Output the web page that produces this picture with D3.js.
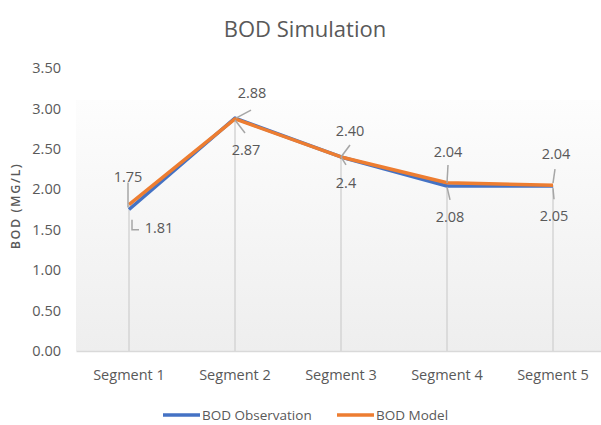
<!DOCTYPE html>
<html>
<head>
<meta charset="utf-8">
<script src="https://cdn.jsdelivr.net/npm/d3@7"></script>
<style>
  body { margin: 0; background: #fff; }
  text { font-family: "Open Sans", "Noto Sans", sans-serif; fill: #595959; }
</style>
</head>
<body>
<svg width="601" height="425"></svg>
<script>
// Data
let categories = ["Segment 1", "Segment 2", "Segment 3", "Segment 4", "Segment 5"];
let observation = [1.75, 2.88, 2.40, 2.04, 2.04];
let model = [1.81, 2.87, 2.40, 2.08, 2.05];
let observationLabels = ["1.75", "2.88", "2.40", "2.04", "2.04"];
let modelLabels = ["1.81", "2.87", "2.4", "2.08", "2.05"];
let yTicks = [0, 0.5, 1, 1.5, 2, 2.5, 3, 3.5];

// Label placement (offsets from the point, like the dragged Excel labels)
let obsLabelPos = [
  { dx: -1, dy: -33, leader: [[-1, -27], [-1, -2]] },
  { dx: 17, dy: -25, leader: [[16, -8], [1, 0]] },
  { dx: 9, dy: -26, leader: [[9, -12], [0, 0]] },
  { dx: 1, dy: -34, leader: [[1, -21], [0, -3]] },
  { dx: 3, dy: -32, leader: [[2, -17], [0, -3]] }
];
let modelLabelPos = [
  { dx: 30, dy: 23, leader: [[3, 15], [3, 25], [10, 25]] },
  { dx: 11, dy: 31, leader: [[0, 1], [10, 14]] },
  { dx: 5, dy: 26, leader: [[0, 0], [5, 8]] },
  { dx: 3, dy: 34, leader: [[0, 4], [3, 17]] },
  { dx: 1, dy: 31, leader: [[0, 3], [1, 14]] }
];

let svg = d3.select("svg");
let width = +svg.attr("width");

let margin = { top: 68, left: 76, bottom: 351 };

let x = d3.scaleBand().domain(categories).range([margin.left, margin.left + 530]);
let y = d3.scaleLinear().domain([0, 3.5]).range([margin.bottom, margin.top]);

// plot area gradient
let defs = svg.append("defs");
let grad = defs.append("linearGradient")
  .attr("id", "plot-bg")
  .attr("x1", "0%").attr("y1", "0%")
  .attr("x2", "0%").attr("y2", "100%");
grad.append("stop").attr("offset", "0%").attr("stop-color", "#fdfdfd");
grad.append("stop").attr("offset", "100%").attr("stop-color", "#eeeeee");

svg.append("rect")
  .attr("x", margin.left)
  .attr("y", 100)
  .attr("width", width - margin.left)
  .attr("height", margin.bottom - 100)
  .attr("fill", "url(#plot-bg)");

// Title
svg.append("text")
  .attr("x", 305)
  .attr("y", 37)
  .attr("text-anchor", "middle")
  .style("font-size", "22px")
  .text("BOD Simulation");

// Y axis tick labels
let yAxis = svg.append("g")
  .attr("transform", "translate(" + (margin.left - 15) + ",0)")
  .call(d3.axisLeft(y).tickValues(yTicks).tickSize(0).tickPadding(0).tickFormat(d3.format(".2f")));
yAxis.select(".domain").remove();
yAxis.selectAll("text")
  .style("font-size", "14.5px")
  .attr("fill", "#595959");

// Y axis title
svg.append("text")
  .attr("transform", "translate(20,206) rotate(-90)")
  .attr("text-anchor", "middle")
  .style("font-size", "12.5px")
  .style("font-weight", "600")
  .style("letter-spacing", "1.6px")
  .text("BOD (MG/L)");

// X axis
let xAxis = svg.append("g")
  .attr("transform", "translate(0," + margin.bottom + ")")
  .call(d3.axisBottom(x).tickSize(0).tickPadding(19));
xAxis.select(".domain")
  .attr("stroke", "#d9d9d9")
  .attr("stroke-width", 1.5);
xAxis.selectAll("text")
  .style("font-size", "14.5px")
  .attr("fill", "#595959");

// Drop lines
svg.append("g")
  .selectAll("line")
  .data(categories)
  .enter()
  .append("line")
  .attr("x1", d => x(d) + x.bandwidth() / 2)
  .attr("x2", d => x(d) + x.bandwidth() / 2)
  .attr("y1", (d, i) => y(Math.max(observation[i], model[i])))
  .attr("y2", margin.bottom)
  .attr("stroke", "#d4d4d4")
  .attr("stroke-width", 1.5);

let cx = (d, i) => x(categories[i]) + x.bandwidth() / 2;

let line = d3.line()
  .x((d, i) => cx(d, i))
  .y(d => y(d));

svg.append("path")
  .datum(observation)
  .attr("d", line)
  .attr("fill", "none")
  .attr("stroke", "#4472C4")
  .attr("stroke-width", 3.5)
  .attr("stroke-linejoin", "round");

svg.append("path")
  .datum(model)
  .attr("d", line)
  .attr("fill", "none")
  .attr("stroke", "#ED7D31")
  .attr("stroke-width", 3.5)
  .attr("stroke-linejoin", "round");

// Data labels with leader lines
function drawLabels(values, labels, pos) {
  let g = svg.append("g");
  values.forEach(function(v, i) {
    let px = cx(v, i);
    let py = y(v);
    let p = pos[i];
    g.append("path")
      .attr("d", d3.line()(p.leader.map(q => [px + q[0], py + q[1]])))
      .attr("fill", "none")
      .attr("stroke", "#a6a6a6")
      .attr("stroke-width", 1.5);
    g.append("text")
      .attr("x", px + p.dx)
      .attr("y", py + p.dy)
      .attr("dy", "0.35em")
      .attr("text-anchor", "middle")
      .style("font-size", "14.5px")
      .text(labels[i]);
  });
}
drawLabels(observation, observationLabels, obsLabelPos);
drawLabels(model, modelLabels, modelLabelPos);

// Legend
let legendItems = [
  { name: "BOD Observation", color: "#4472C4", x: 163 },
  { name: "BOD Model", color: "#ED7D31", x: 337 }
];
let legend = svg.append("g");
legendItems.forEach(function(d) {
  legend.append("line")
    .attr("x1", d.x).attr("x2", d.x + 37)
    .attr("y1", 415).attr("y2", 415)
    .attr("stroke", d.color)
    .attr("stroke-width", 3.5);
  legend.append("text")
    .attr("x", d.x + 39)
    .attr("y", 415)
    .attr("dy", "0.35em")
    .style("font-size", "13.5px")
    .text(d.name);
});
</script>
</body>
</html>
